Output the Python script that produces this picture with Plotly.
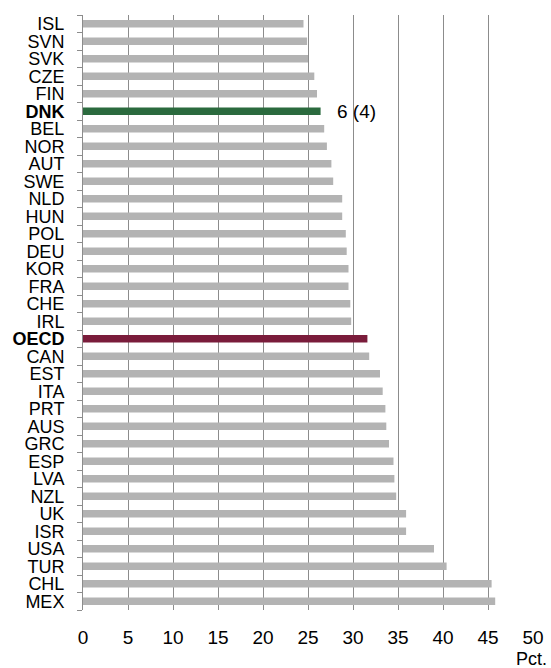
import plotly.graph_objects as go

countries = ["ISL", "SVN", "SVK", "CZE", "FIN", "DNK", "BEL", "NOR", "AUT", "SWE",
             "NLD", "HUN", "POL", "DEU", "KOR", "FRA", "CHE", "IRL", "OECD", "CAN",
             "EST", "ITA", "PRT", "AUS", "GRC", "ESP", "LVA", "NZL", "UK", "ISR",
             "USA", "TUR", "CHL", "MEX"]
values = [24.5, 24.9, 25.0, 25.7, 26.0, 26.4, 26.8, 27.1, 27.6, 27.8,
          28.8, 28.8, 29.2, 29.3, 29.5, 29.5, 29.7, 29.8, 31.6, 31.8,
          33.0, 33.3, 33.6, 33.7, 34.0, 34.5, 34.6, 34.8, 35.9, 35.9,
          39.0, 40.4, 45.4, 45.8]
highlight = {"DNK": "#2B6A3E", "OECD": "#7A1C3B"}
x_ticks = [0, 5, 10, 15, 20, 25, 30, 35, 40, 45, 50]
dnk_label = "6 (4)"

FONT = "Liberation Sans, Arial, sans-serif"
colors = [highlight.get(c, "#B3B3B3") for c in countries]
ticktext = [f"<b>{c}</b>" if c in highlight else c for c in countries]

fig = go.Figure()
fig.add_trace(go.Bar(
    x=values, y=countries, orientation="h",
    marker=dict(color=colors, line=dict(width=0)),
    width=0.43,
))
fig.add_annotation(x=28, y="DNK", text=dnk_label, showarrow=False,
                   xanchor="left", yanchor="middle",
                   font=dict(family=FONT, size=19, color="#000"))

fig.update_layout(
    width=551, height=668,
    margin=dict(l=83, r=18, t=15, b=58, autoexpand=False),
    plot_bgcolor="white", paper_bgcolor="white",
    showlegend=False,
    font=dict(family=FONT, size=18, color="#000"),
    xaxis=dict(range=[0, 50], tickvals=x_ticks, showgrid=True,
               gridcolor="#8C8C8C", gridwidth=1, zeroline=False,
               showline=False, ticks="", tickfont=dict(size=19),
               ticklabelstandoff=14, automargin=False),
    yaxis=dict(categoryorder="array", categoryarray=countries,
               autorange="reversed", tickvals=countries, ticktext=ticktext,
               showline=True, linecolor="#8C8C8C", linewidth=1,
               ticks="outside", ticklen=5, tickcolor="#8C8C8C",
               tickson="boundaries", showgrid=False,
               tickfont=dict(size=18), ticklabelstandoff=14, automargin=False),
)
fig.add_annotation(x=1.0, y=-0.082, xref="paper", yref="paper", text="Pct.",
                   showarrow=False, xanchor="right", yanchor="middle", xshift=16,
                   font=dict(family=FONT, size=18))

fig.write_html("out.html",
               config={"displayModeBar": False},
               post_script="document.body.style.margin='0';"
                           "document.body.style.overflow='hidden';")
